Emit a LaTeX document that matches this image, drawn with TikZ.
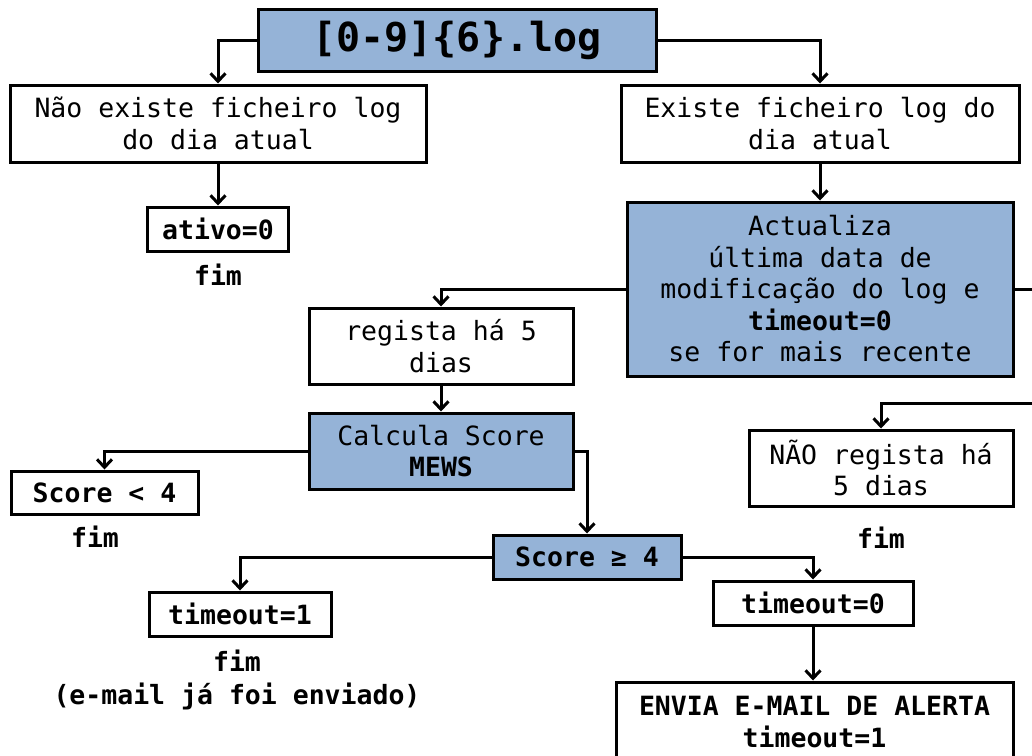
\documentclass[tikz,border=0pt]{standalone}
\usepackage{fontspec}
\setmainfont{DejaVu Sans Mono}
\usepackage{xcolor}
\usepackage{tikz}
\usetikzlibrary{arrows.meta}
\definecolor{B0}{HTML}{95B3D7}

\begin{document}
\begin{tikzpicture}[x=1pt, y=-1pt,
  box/.style={draw, line width=3pt, inner sep=0pt, align=center, font=\fontsize{26.5}{31.5}\selectfont},
  bluebox/.style={box, fill=B0},
  bbox/.style={box, font=\fontsize{26.5}{31.5}\selectfont\bfseries},
  lbl/.style={inner sep=0pt, align=center, font=\fontsize{26.5}{33}\selectfont\bfseries},
  arr/.style={line width=3pt, -{Straight Barb[length=8pt,width=15pt]}}]%
\useasboundingbox (0,0) rectangle (1032,755);%
\clip (0,0) rectangle (1032,755);%
\node[bluebox, minimum width=398pt, minimum height=62pt, font=\fontsize{40}{44}\selectfont\bfseries] (title) at (457, 40) {[0-9]\{6\}.log};%
\node[box, minimum width=416pt, minimum height=77pt] (nao) at (218, 123.5) {Não existe ficheiro log\\do dia atual};%
\node[bbox, minimum width=141pt, minimum height=44pt] (ativo) at (218, 229) {ativo=0};%
\node[lbl] (fimA) at (218, 275) {fim};%
\node[box, minimum width=398pt, minimum height=77pt] (existe) at (820, 123.5) {Existe ficheiro log do\\dia atual};%
\node[bluebox, minimum width=386pt, minimum height=174pt] (act) at (820, 289) {Actualiza\\última data de\\modificação do log e\\\textbf{timeout=0}\\se for mais recente};%
\node[box, minimum width=264pt, minimum height=76pt] (reg) at (441, 346) {regista há 5\\dias};%
\node[bluebox, minimum width=264pt, minimum height=76pt] (calc) at (441, 451) {Calcula Score\\\textbf{MEWS}};%
\node[box, minimum width=264pt, minimum height=76pt] (naoreg) at (881, 468) {NÃO regista há\\5 dias};%
\node[lbl] (fimB) at (881, 538) {fim};%
\node[bbox, minimum width=187pt, minimum height=43pt] (menor) at (104.5, 492.5) {Score < 4};%
\node[lbl] (fimC) at (95, 537) {fim};%
\node[bbox, fill=B0, minimum width=188pt, minimum height=44pt] (maior) at (587, 557) {Score ≥ 4};%
\node[bbox, minimum width=182pt, minimum height=44pt] (tout1) at (240, 614) {timeout=1};%
\node[lbl] (fimD) at (237, 680) {fim\\(e-mail já foi enviado)};%
\node[bbox, minimum width=200pt, minimum height=44pt] (tout0) at (813, 603) {timeout=0};%
\node[bbox, minimum width=397pt, minimum height=80pt] (envia) at (814.5, 722) {ENVIA E-MAIL DE ALERTA\\timeout=1};%
\coordinate (volta) at (1050, 403);%
% ligacoes
\draw[arr] (title.west) -| (nao.north);%
\draw[arr] (title.east) -| (existe.north);%
\draw[arr] (nao.south) -- (ativo.north);%
\draw[arr] (existe.south) -- (act.north);%
\draw[arr] (act.west) -| (reg.north);%
\draw[arr] (act.east) -| (volta) -| (naoreg.north);%
\draw[arr] (reg.south) -- (calc.north);%
\draw[arr] (calc.west) -| (menor.north);%
\draw[arr] (calc.east) -| (maior.north);%
\draw[arr] (maior.west) -| (tout1.north);%
\draw[arr] (maior.east) -| (tout0.north);%
\draw[arr] (tout0.south) -- (tout0.south |- envia.north);%
\end{tikzpicture}
\end{document}
